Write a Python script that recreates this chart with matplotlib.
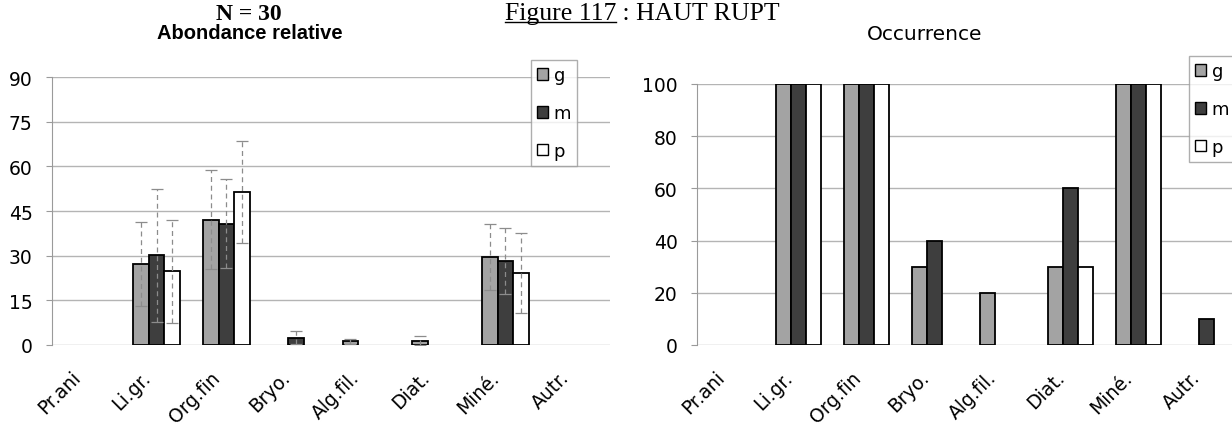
import numpy as np
import matplotlib.pyplot as plt
from matplotlib.transforms import ScaledTranslation
from matplotlib.patches import Patch

categories = ['Pr.ani', 'Li.gr.', 'Org.fin', 'Bryo.', 'Alg.fil.', 'Diat.', 'Miné.', 'Autr.']
sizes = ['g', 'm', 'p']

# relative abundance (%) and standard deviation, per size class
abund_g = [0, 27.2, 42.1, 0, 1.2, 1.5, 29.6, 0]
abund_m = [0, 30.1, 40.7, 2.5, 0, 0, 28.3, 0]
abund_p = [0, 24.7, 51.4, 0, 0, 0, 24.1, 0]
sd_g = [0, 14.2, 16.6, 0, 0.8, 1.6, 11.1, 0]
sd_m = [0, 22.4, 15.0, 2.3, 0, 0, 11.1, 0]
sd_p = [0, 17.4, 17.0, 0, 0, 0, 13.5, 0]

# occurrence (%)
occ_g = [0, 100, 100, 30, 20, 30, 100, 0]
occ_m = [0, 100, 100, 40, 0, 60, 100, 10]
occ_p = [0, 100, 100, 0, 0, 30, 100, 0]

colors = {'g': '#a3a3a3', 'm': '#3e3e3e', 'p': 'white'}
grid_col = '#b4b4b4'

plt.rcParams['font.family'] = 'DejaVu Sans'

W, H = 1232, 427
fig = plt.figure(figsize=(W / 100, H / 100), dpi=100)


def px_axes(x0, x1, y_top, y_bot):
    return fig.add_axes([x0 / W, 1 - y_bot / H, (x1 - x0) / W, (y_bot - y_top) / H])


ax1 = px_axes(52, 610, 78, 346)
ax2 = px_axes(697, 1240, 85, 346)

x = np.arange(len(categories))
bw = 1 / 4.5


def grouped_bars(ax, series, errors=None):
    for i, (name, vals) in enumerate(zip(sizes, series)):
        vals = np.array(vals, dtype=float)
        pos = x + (i - 1) * bw
        keep = vals > 0
        ax.bar(pos[keep], vals[keep], width=bw, color=colors[name],
               edgecolor='black', linewidth=1.3, zorder=3)
        if errors is not None:
            err = np.array(errors[i], dtype=float)
            k = err > 0
            eb = ax.errorbar(pos[k], vals[k], yerr=err[k], fmt='none',
                             ecolor='#8c8c8c', elinewidth=0.9, capsize=4,
                             capthick=0.9, zorder=4)
            eb[2][0].set_linestyle((0, (4, 3)))


def style_axes(ax, ymax, step):
    ax.set_xlim(-0.5, len(categories) - 0.5)
    ax.set_ylim(0, ymax)
    ax.set_yticks(np.arange(0, ymax + 1, step))
    ax.yaxis.grid(True, color=grid_col, linewidth=1.0, zorder=0)
    ax.set_axisbelow(True)
    for s in ['top', 'right', 'bottom']:
        ax.spines[s].set_visible(False)
    ax.spines['left'].set_color('#9a9a9a')
    ax.tick_params(axis='y', length=4, color='#9a9a9a', labelsize=13.5, pad=10)
    ax.set_xticks(x)
    ax.set_xticklabels(categories, rotation=45, ha='right', va='center',
                       rotation_mode='anchor', fontsize=13.5)
    ax.tick_params(axis='x', length=0, pad=21)
    for lab in ax.get_xticklabels():
        lab.set_transform(lab.get_transform() + ScaledTranslation(-0.09, 0, fig.dpi_scale_trans))


grouped_bars(ax1, [abund_g, abund_m, abund_p], [sd_g, sd_m, sd_p])
style_axes(ax1, 90, 15)
grouped_bars(ax2, [occ_g, occ_m, occ_p])
style_axes(ax2, 100, 20)

handles = [Patch(facecolor=colors[s], edgecolor='black', linewidth=1.0) for s in sizes]
for corner in [(531, 61), (1189, 57)]:
    leg = fig.legend(handles, sizes, loc='upper left',
                     bbox_to_anchor=(corner[0] / W, 1 - corner[1] / H),
                     frameon=True, fancybox=False, fontsize=13,
                     handlelength=0.6, handleheight=0.6, handletextpad=0.3,
                     labelspacing=1.1, borderpad=0.35, borderaxespad=0)
    leg.get_frame().set_edgecolor('#9a9a9a')
    leg.get_frame().set_linewidth(1.0)

fig.text(249 / W, 1 - 20 / H, 'N = 30', family='Liberation Serif', weight='bold',
         fontsize=17, ha='center', va='baseline')
fig.text(250 / W, 1 - 39 / H, 'Abondance relative', family='Liberation Sans',
         weight='bold', fontsize=14.5, ha='center', va='baseline')
fig.text(925 / W, 1 - 40 / H, 'Occurrence', fontsize=14.5, ha='center', va='baseline')

t1 = fig.text(505 / W, 1 - 20 / H, 'Figure 117', family='Liberation Serif',
              fontsize=18.5, ha='left', va='baseline')
renderer = fig.canvas.get_renderer()
bb = t1.get_window_extent(renderer)
fig.text(bb.x1 / W, 1 - 20 / H, ' : HAUT RUPT', family='Liberation Serif',
         fontsize=18.5, ha='left', va='baseline')
uy = 1 - 23 / H
fig.add_artist(plt.Line2D([bb.x0 / W, bb.x1 / W], [uy, uy], color='black', linewidth=1.0))

fig.savefig('out.png', dpi=100)
